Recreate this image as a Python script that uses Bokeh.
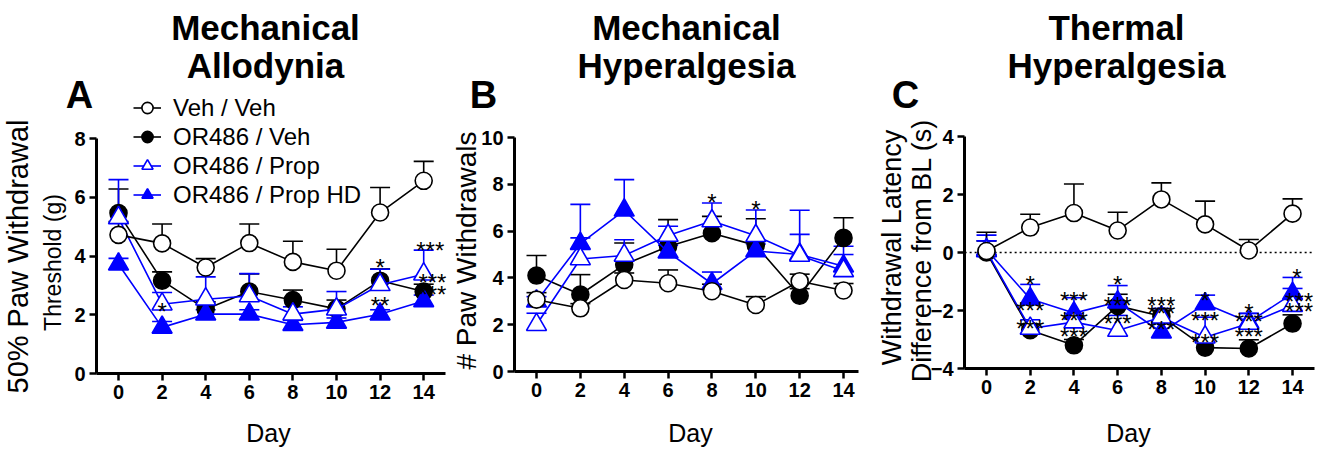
from bokeh.plotting import figure
from bokeh.models import (ColumnDataSource, Whisker, TeeHead, Label, Legend, LegendItem,
                          FixedTicker, Range1d)
from bokeh.layouts import row
from bokeh.embed import file_html
from bokeh.resources import INLINE
from bokeh.core.properties import value

FONT = "Liberation Sans"
BLUE = "#0000FF"
H = 459

days = [0, 2, 4, 6, 8, 10, 12, 14]
series_names = ["Veh / Veh", "OR486 / Veh", "OR486 / Prop", "OR486 / Prop HD"]

# ---- Panel A: Mechanical Allodynia (50% paw withdrawal threshold, g)
a_veh_veh = [4.72, 4.43, 3.61, 4.44, 3.80, 3.50, 5.48, 6.56]
a_veh_veh_err = [0.45, 0.66, 0.30, 0.65, 0.70, 0.73, 0.85, 0.66]
a_or_veh = [5.46, 3.16, 2.19, 2.79, 2.50, 2.20, 3.16, 2.79]
a_or_veh_err = [0.82, 0.30, 0.25, 0.60, 0.34, 0.30, 0.40, 0.25]
a_prop = [5.30, 2.36, 2.53, 2.64, 2.02, 2.19, 3.02, 3.38]
a_prop_err = [1.30, 0.40, 0.76, 0.76, 0.25, 0.60, 0.53, 0.82]
a_hd = [3.72, 1.57, 2.02, 2.02, 1.66, 1.74, 2.02, 2.47]
a_hd_err = [0.20, 0.20, 0.15, 0.15, 0.15, 0.15, 0.15, 0.20]
a_star_day = [2, 12, 12, 14.3, 14.4, 14.4]
a_star_y = [2.35, 3.84, 2.55, 4.42, 3.33, 2.92]
a_star_txt = ["*", "*", "**", "***", "***", "***"]
a_yticks = [0, 2, 4, 6, 8]

# ---- Panel B: Mechanical Hyperalgesia (# paw withdrawals)
b_veh_veh = [3.07, 2.70, 3.91, 3.77, 3.43, 2.84, 3.86, 3.46]
b_veh_veh_err = [0.30, 0.20, 0.30, 0.57, 0.30, 0.36, 0.30, 0.30]
b_or_veh = [4.10, 3.29, 4.57, 5.34, 5.91, 5.39, 3.24, 5.71]
b_or_veh_err = [0.86, 0.85, 0.92, 1.15, 0.72, 1.14, 0.30, 0.86]
b_prop = [2.00, 4.81, 4.96, 5.81, 6.43, 5.80, 4.96, 4.30]
b_prop_err = [0.49, 0.90, 0.67, 0.40, 0.77, 1.10, 0.90, 0.70]
b_hd = [3.00, 5.46, 6.89, 5.10, 3.75, 5.15, 5.00, 4.50]
b_hd_err = [0.20, 1.68, 1.31, 0.30, 0.50, 0.30, 1.89, 0.85]
b_star_day = [8, 10]
b_star_y = [7.52, 7.24]
b_star_txt = ["*", "*"]
b_yticks = [0, 2, 4, 6, 8, 10]

# ---- Panel C: Thermal Hyperalgesia (withdrawal latency difference from BL, s)
c_veh_veh = [0.05, 0.86, 1.36, 0.76, 1.83, 0.97, 0.07, 1.34]
c_veh_veh_err = [0.65, 0.46, 1.00, 0.63, 0.57, 0.80, 0.38, 0.51]
c_or_veh = [0.00, -2.68, -3.20, -1.84, -2.20, -3.28, -3.31, -2.45]
c_or_veh_err = [0.40, 0.20, 0.20, 0.40, 0.20, 0.20, 0.30, 0.30]
c_prop = [0.05, -2.62, -2.40, -2.69, -2.23, -2.92, -2.45, -1.83]
c_prop_err = [0.35, 0.30, 0.30, 0.52, 0.30, 0.69, 0.35, 0.59]
c_hd = [0.10, -1.60, -2.09, -1.71, -2.75, -1.77, -2.40, -1.42]
c_hd_err = [0.50, 0.50, 0.53, 0.57, 0.30, 0.30, 0.30, 0.56]
c_star_day = [2, 2, 2, 4, 4, 4, 6, 6, 6, 8, 8, 8, 10, 10, 10, 12, 12, 12, 14.2, 14.3, 14.3]
c_star_y = [-0.86, -1.77, -2.37, -1.40, -2.10, -2.65, -0.86, -1.60, -2.20, -1.60, -1.85, -2.40,
            -1.40, -2.10, -2.86, -1.83, -2.15, -2.67, -0.62, -1.45, -1.79]
c_star_txt = ["*", "***", "***", "***", "***", "***", "*", "***", "***", "***", "***", "***",
              "*", "***", "***", "*", "***", "***", "*", "***", "***"]
c_yticks = [-4, -2, 0, 2, 4]
c_baseline = [0, 0]

STYLES = {
    "Veh / Veh": dict(color="black", marker="circle", fill="white", size=17),
    "OR486 / Veh": dict(color="black", marker="circle", fill="black", size=17),
    "OR486 / Prop": dict(color=BLUE, marker="triangle", fill="white", size=20),
    "OR486 / Prop HD": dict(color=BLUE, marker="triangle", fill=BLUE, size=20),
}
DRAW_ORDER = ["OR486 / Veh", "OR486 / Prop HD", "OR486 / Prop", "Veh / Veh"]


def add_text(p, txt, x, y, size, bold=False, angle=0):
    p.add_layout(Label(x=x, y=y, x_units="screen", y_units="screen", text=txt,
                       angle=angle, angle_units="deg", text_font=FONT, text_color="black",
                       text_font_style="bold" if bold else "normal",
                       text_font_size=size, text_align="center", text_baseline="middle"))


def make_panel(width, x0_px, x_scale, y0_px, y_scale, xbounds, ybounds, yticks, data, stars,
               title_lines, title_x, letter, letter_x, ylabels, day_x, zero_line=None):
    # frame covers the whole figure; map data to pixels via the ranges
    xr = Range1d(-x0_px / x_scale, (width - x0_px) / x_scale)
    yr = Range1d(-(H - y0_px) / y_scale, y0_px / y_scale)
    p = figure(width=width, height=H, output_backend="svg", toolbar_location=None,
               x_range=xr, y_range=yr,
               min_border_left=0, min_border_right=0, min_border_top=0, min_border_bottom=0)
    p.outline_line_color = None
    p.grid.visible = False
    p.background_fill_color = "white"
    p.border_fill_color = "white"
    p.xaxis.fixed_location = ybounds[0]
    p.yaxis.fixed_location = xbounds[0]
    p.xaxis.bounds = xbounds
    p.yaxis.bounds = ybounds
    for ax in (p.xaxis[0], p.yaxis[0]):
        ax.axis_line_width = 3
        ax.axis_line_color = "black"
        ax.major_tick_line_width = 2.5
        ax.major_tick_line_color = "black"
        ax.major_tick_out = 7
        ax.major_tick_in = 0
        ax.minor_tick_line_color = None
        ax.major_label_text_font = FONT
        ax.major_label_text_font_style = "bold"
        ax.major_label_text_font_size = "20px"
        ax.major_label_text_color = "black"
        ax.major_label_standoff = 4
    p.xaxis.ticker = FixedTicker(ticks=days)
    p.yaxis.ticker = FixedTicker(ticks=yticks)

    if zero_line is not None:
        p.line(x=list(xbounds), y=zero_line, line_color="black", line_dash="2 3", line_width=1.5)

    renderers = {}
    for name in DRAW_ORDER:
        vals, errs = data[name]
        st = STYLES[name]
        src = ColumnDataSource(dict(x=days, y=vals, top=[v + e for v, e in zip(vals, errs)]))
        w = Whisker(base="x", lower="y", upper="top", source=src, dimension="height",
                    line_color=st["color"], line_width=1.6, level="underlay",
                    lower_head=None,
                    upper_head=TeeHead(size=20, line_color=st["color"], line_width=1.6))
        p.add_layout(w)
        ln = p.line("x", "y", source=src, line_color=st["color"], line_width=1.6)
        sc = p.scatter("x", "y", source=src, marker=st["marker"], size=st["size"],
                       fill_color=st["fill"], line_color=st["color"], line_width=1.6)
        renderers[name] = (ln, sc)

    sx, sy, stxt = stars
    ssrc = ColumnDataSource(dict(x=sx, y=sy, t=stxt))
    p.text(x="x", y="y", text="t", source=ssrc, text_font=value(FONT),
           text_font_size="24px", text_align="center", text_baseline="middle",
           y_offset=7, text_color="black")

    add_text(p, title_lines[0], title_x, H - 27, "35px", bold=True)
    add_text(p, title_lines[1], title_x, H - 65, "35px", bold=True)
    add_text(p, letter, letter_x, H - 94, "38px", bold=True)
    for txt, lx, ly, fs in ylabels:
        add_text(p, txt, lx, H - ly, fs, angle=90)
    add_text(p, "Day", day_x, H - 432, "25px")
    return p, renderers


pA, rA = make_panel(450, 118, 21.8, 373, 29.375, (-1, 15), (0, 8), a_yticks,
                    {"Veh / Veh": (a_veh_veh, a_veh_veh_err),
                     "OR486 / Veh": (a_or_veh, a_or_veh_err),
                     "OR486 / Prop": (a_prop, a_prop_err),
                     "OR486 / Prop HD": (a_hd, a_hd_err)},
                    (a_star_day, a_star_y, a_star_txt),
                    ["Mechanical", "Allodynia"], 265, "A", 79,
                    [("50% Paw Withdrawal", 17, 256, "29px"),
                     ("Threshold (g)", 52, 262, "23px")], 268)

legend = Legend(items=[LegendItem(label=n, renderers=list(rA[n])) for n in series_names],
                location=(133, H - 209), padding=0, margin=0, spacing=0,
                label_height=29, glyph_height=29, glyph_width=28, label_standoff=12,
                label_text_font=FONT, label_text_font_size="24px", label_text_color="black",
                border_line_color=None, background_fill_alpha=0)
pA.add_layout(legend, "center")

pB, rB = make_panel(420, 86, 21.93, 371, 23.4, (-1, 14.7), (0, 10), b_yticks,
                    {"Veh / Veh": (b_veh_veh, b_veh_veh_err),
                     "OR486 / Veh": (b_or_veh, b_or_veh_err),
                     "OR486 / Prop": (b_prop, b_prop_err),
                     "OR486 / Prop HD": (b_hd, b_hd_err)},
                    (b_star_day, b_star_y, b_star_txt),
                    ["Mechanical", "Hyperalgesia"], 236, "B", 33,
                    [("# Paw Withdrawals", 16, 250, "28px")], 240)

pC, rC = make_panel(451, 116, 21.86, 252, 29.0, (-1, 15), (-4, 4), c_yticks,
                    {"Veh / Veh": (c_veh_veh, c_veh_veh_err),
                     "OR486 / Veh": (c_or_veh, c_or_veh_err),
                     "OR486 / Prop": (c_prop, c_prop_err),
                     "OR486 / Prop HD": (c_hd, c_hd_err)},
                    (c_star_day, c_star_y, c_star_txt),
                    ["Thermal", "Hyperalgesia"], 246, "C", 35,
                    [("Withdrawal Latency", 21, 247, "27px"),
                     ("Difference from BL (s)", 51, 250, "27px")],
                    258, zero_line=c_baseline)

layout = row(pA, pB, pC, spacing=0)
open("out.html", "w").write(file_html(layout, INLINE))
